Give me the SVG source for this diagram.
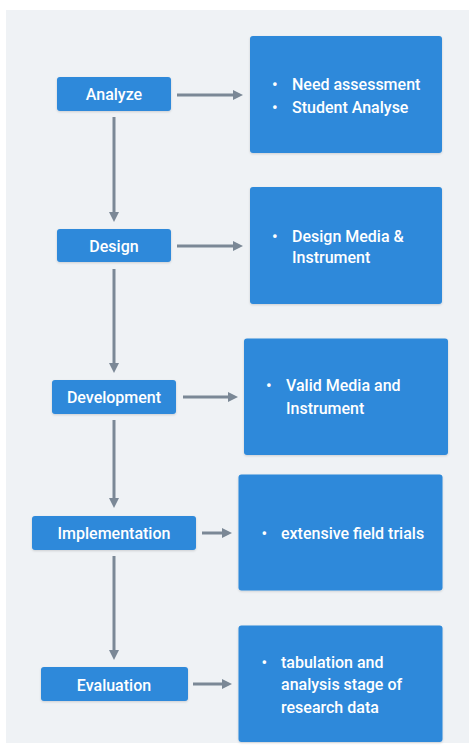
<svg xmlns="http://www.w3.org/2000/svg" width="471" height="747" viewBox="0 0 471 747">
  <style>
    .node { fill: #2d89da; }
    .lbl { font-family: Roboto, "Liberation Sans", sans-serif; font-weight: 500; font-size: 16px; fill: #ffffff; }
    .mid { text-anchor: middle; }
    .conn { stroke: #7b8896; stroke-width: 3; fill: none; }
  </style>
  <defs>
    <marker id="ah" viewBox="0 0 10 10" refX="5" refY="5" markerWidth="10" markerHeight="10" markerUnits="userSpaceOnUse" orient="auto">
      <path d="M0,0 L10,5 L0,10 z" fill="#7b8896"/>
    </marker>
    <filter id="sh" x="-10%" y="-10%" width="120%" height="130%">
      <feDropShadow dx="0" dy="1" stdDeviation="1" flood-color="#000" flood-opacity="0.15"/>
    </filter>
  </defs>
  <rect x="0" y="0" width="471" height="747" fill="#ffffff"/>
  <rect x="6" y="10" width="463" height="733" fill="#eff2f5"/>

  <g id="connectors">
    <line class="conn" x1="177" y1="95" x2="238" y2="95" marker-end="url(#ah)"/>
    <line class="conn" x1="177" y1="246" x2="238" y2="246" marker-end="url(#ah)"/>
    <line class="conn" x1="183" y1="397" x2="233" y2="397" marker-end="url(#ah)"/>
    <line class="conn" x1="202" y1="533" x2="227" y2="533" marker-end="url(#ah)"/>
    <line class="conn" x1="193" y1="684" x2="227" y2="684" marker-end="url(#ah)"/>
    <line class="conn" x1="114" y1="117" x2="114" y2="217" marker-end="url(#ah)"/>
    <line class="conn" x1="114" y1="269" x2="114" y2="368" marker-end="url(#ah)"/>
    <line class="conn" x1="114" y1="420" x2="114" y2="503" marker-end="url(#ah)"/>
    <line class="conn" x1="114" y1="556" x2="114" y2="655" marker-end="url(#ah)"/>
  </g>

  <g id="analyze">
    <rect class="node" x="57" y="77" width="114" height="34" rx="3" filter="url(#sh)"/>
    <text class="lbl mid" x="114" y="100">Analyze</text>
  </g>
  <g id="analyze-detail">
    <rect class="node" x="250" y="36" width="192" height="117" rx="3" filter="url(#sh)"/>
    <text class="lbl" x="272" y="90">•</text>
    <text class="lbl" x="292" y="90">Need assessment</text>
    <text class="lbl" x="272" y="112.5">•</text>
    <text class="lbl" x="292" y="112.5">Student Analyse</text>
  </g>

  <g id="design">
    <rect class="node" x="57" y="229" width="114" height="33" rx="3" filter="url(#sh)"/>
    <text class="lbl mid" x="114" y="251.5">Design</text>
  </g>
  <g id="design-detail">
    <rect class="node" x="250" y="187" width="192" height="117" rx="3" filter="url(#sh)"/>
    <text class="lbl" x="272" y="241.5">•</text>
    <text class="lbl" x="292" y="241.5">Design Media &amp;</text>
    <text class="lbl" x="292" y="262.5">Instrument</text>
  </g>

  <g id="development">
    <rect class="node" x="52" y="380" width="124" height="34" rx="3" filter="url(#sh)"/>
    <text class="lbl mid" x="114" y="402.5">Development</text>
  </g>
  <g id="development-detail">
    <rect class="node" x="244" y="338.5" width="204" height="116.5" rx="3" filter="url(#sh)"/>
    <text class="lbl" x="266" y="391">•</text>
    <text class="lbl" x="286" y="391">Valid Media and</text>
    <text class="lbl" x="286" y="414">Instrument</text>
  </g>

  <g id="implementation">
    <rect class="node" x="32" y="516" width="164" height="34" rx="3" filter="url(#sh)"/>
    <text class="lbl mid" x="114" y="539">Implementation</text>
  </g>
  <g id="implementation-detail">
    <rect class="node" x="238.5" y="474.5" width="204" height="116" rx="3" filter="url(#sh)"/>
    <text class="lbl" x="261.5" y="539">•</text>
    <text class="lbl" x="281" y="539">extensive field trials</text>
  </g>

  <g id="evaluation">
    <rect class="node" x="41" y="667" width="147" height="34" rx="3" filter="url(#sh)"/>
    <text class="lbl mid" x="114" y="690.5">Evaluation</text>
  </g>
  <g id="evaluation-detail">
    <rect class="node" x="238.5" y="625.5" width="204" height="116.5" rx="3" filter="url(#sh)"/>
    <text class="lbl" x="261.5" y="667.5">•</text>
    <text class="lbl" x="281" y="667.5">tabulation and</text>
    <text class="lbl" x="281" y="690">analysis stage of</text>
    <text class="lbl" x="281" y="712.5">research data</text>
  </g>
</svg>
